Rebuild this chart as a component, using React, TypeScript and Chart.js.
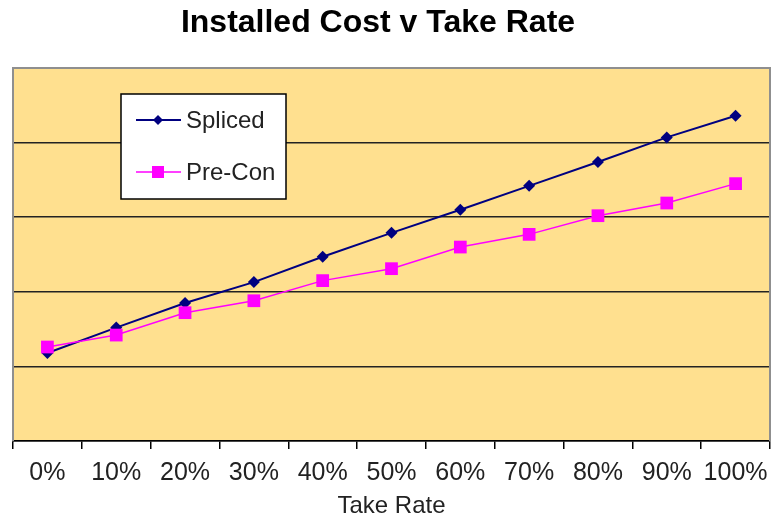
import React, { useEffect, useRef } from "react";
import { Chart, registerables } from "chart.js";

Chart.register(...registerables);

const categories = ["0%", "10%", "20%", "30%", "40%", "50%", "60%", "70%", "80%", "90%", "100%"];
const splicedValues = [1.18, 1.52, 1.85, 2.13, 2.47, 2.79, 3.1, 3.42, 3.74, 4.07, 4.36];
const preConValues = [1.26, 1.42, 1.72, 1.88, 2.15, 2.31, 2.6, 2.77, 3.02, 3.19, 3.45];
const titleText = "Installed Cost v Take Rate";
const xTitle = "Take Rate";
const seriesNames = ["Spliced", "Pre-Con"];

const FONT = "'Liberation Sans', Arial, sans-serif";

const decorPlugin = {
  id: "decor",
  beforeDraw(chart: any) {
    const { ctx, chartArea: a } = chart;
    ctx.save();
    ctx.fillStyle = "#FFE08F";
    ctx.fillRect(a.left, a.top, a.right - a.left, a.bottom - a.top);
    ctx.restore();
  },
  afterDraw(chart: any) {
    const { ctx, chartArea: a } = chart;
    ctx.save();
    ctx.strokeStyle = "#8f8f8f";
    ctx.lineWidth = 2;
    ctx.beginPath();
    ctx.moveTo(a.left, a.bottom);
    ctx.lineTo(a.left, a.top);
    ctx.lineTo(a.right, a.top);
    ctx.lineTo(a.right, a.bottom);
    ctx.stroke();

    ctx.fillStyle = "#000";
    ctx.font = `bold 32px ${FONT}`;
    ctx.textAlign = "center";
    ctx.textBaseline = "alphabetic";
    ctx.fillText(titleText, 378, 32);

    const bx = 121, by = 94, bw = 165, bh = 105;
    ctx.fillStyle = "#fff";
    ctx.fillRect(bx, by, bw, bh);
    ctx.strokeStyle = "#000";
    ctx.lineWidth = 1.5;
    ctx.strokeRect(bx, by, bw, bh);
    const rows = [
      { name: seriesNames[0], y: 120, color: "#000080", style: "diamond" },
      { name: seriesNames[1], y: 172, color: "#FF00FF", style: "square" },
    ];
    rows.forEach((r) => {
      ctx.strokeStyle = r.color;
      ctx.lineWidth = r.style === "diamond" ? 2 : 1.5;
      ctx.beginPath();
      ctx.moveTo(136, r.y);
      ctx.lineTo(181, r.y);
      ctx.stroke();
      ctx.fillStyle = r.color;
      ctx.beginPath();
      if (r.style === "diamond") {
        ctx.moveTo(158, r.y - 5);
        ctx.lineTo(163, r.y);
        ctx.lineTo(158, r.y + 5);
        ctx.lineTo(153, r.y);
        ctx.closePath();
        ctx.fill();
      } else {
        ctx.fillRect(152, r.y - 6, 12, 12);
      }
      ctx.fillStyle = "#222";
      ctx.font = `24px ${FONT}`;
      ctx.textAlign = "left";
      ctx.textBaseline = "middle";
      ctx.fillText(r.name, 186, r.y + 1);
    });
    ctx.restore();
  },
};

export default function App() {
  const ref = useRef<HTMLCanvasElement | null>(null);
  useEffect(() => {
    document.body.style.margin = "0";
    if (!ref.current) return;
    const chart = new Chart(ref.current, {
      type: "line",
      data: {
        labels: categories,
        datasets: [
          {
            label: seriesNames[0],
            data: splicedValues,
            borderColor: "#000080",
            backgroundColor: "#000080",
            borderWidth: 2,
            pointStyle: "rectRot",
            pointRadius: 6,
            pointBorderWidth: 0,
            pointBackgroundColor: "#000080",
            order: 2,
          },
          {
            label: seriesNames[1],
            data: preConValues,
            borderColor: "#FF00FF",
            backgroundColor: "#FF00FF",
            borderWidth: 1.5,
            pointStyle: "rect",
            pointRadius: 9,
            pointBorderWidth: 0,
            pointBackgroundColor: "#FF00FF",
            order: 1,
          },
        ],
      },
      options: {
        animation: false,
        responsive: false,
        layout: { autoPadding: false, padding: { left: 13, right: 1, top: 68, bottom: 0 } },
        plugins: {
          legend: { display: false },
          title: { display: false },
          tooltip: { enabled: false },
        },
        scales: {
          x: {
            type: "category",
            offset: true,
            grid: {
              offset: true,
              drawOnChartArea: false,
              drawTicks: true,
              tickLength: 8,
              color: "#000",
              lineWidth: 1.5,
            },
            border: { color: "#000", width: 1.5 },
            ticks: {
              color: "#222",
              font: { family: FONT, size: 25 },
              padding: 9,
              maxRotation: 0,
              autoSkip: false,
            },
            title: {
              display: true,
              text: xTitle,
              color: "#222",
              font: { family: FONT, size: 24 },
              padding: { top: 2, bottom: 0 },
            },
            afterFit: (s: any) => {
              s.paddingLeft = 0;
              s.paddingRight = 0;
              s.height = 80;
            },
          },
          y: {
            min: 0,
            max: 5,
            ticks: { display: false, stepSize: 1 },
            border: { display: false },
            grid: {
              drawTicks: false,
              lineWidth: 1.5,
              color: (c: any) => (c.tick && c.tick.value === 5 ? "rgba(0,0,0,0)" : "#222"),
            },
            afterFit: (s: any) => {
              s.width = 0;
            },
          },
        },
      },
      plugins: [decorPlugin],
    } as any);
    return () => chart.destroy();
  }, []);
  return (
    <div style={{ width: 771, height: 521 }}>
      <canvas ref={ref} width={771} height={521} style={{ display: "block" }} />
    </div>
  );
}
